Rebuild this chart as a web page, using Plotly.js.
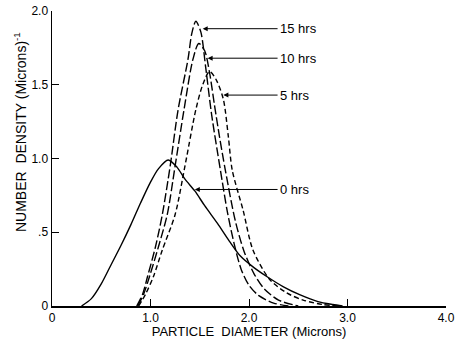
<!DOCTYPE html>
<html>
<head>
<meta charset="utf-8">
<script src="https://cdn.plot.ly/plotly-3.0.1.min.js"></script>
<style>html,body{margin:0;padding:0;background:#fff;}#chart{width:457px;height:339px;}</style>
</head>
<body>
<div id="chart"></div>
<script>
// 0 hrs (solid)
const diameter0 = [0.30,0.40,0.50,0.60,0.70,0.80,0.90,1.00,1.08,1.18,1.27,1.35,1.45,1.55,1.68,1.80,1.91,2.05,2.18,2.35,2.52,2.70,2.85,2.95];
const density0  = [0,0.05,0.15,0.28,0.41,0.55,0.70,0.84,0.93,0.99,0.94,0.86,0.78,0.68,0.56,0.44,0.34,0.26,0.20,0.13,0.075,0.03,0.01,0];
// 5 hrs
const diameter5 = [0.88,0.95,1.03,1.12,1.25,1.35,1.46,1.53,1.60,1.67,1.74,1.79,1.83,1.94,2.04,2.21,2.38,2.55,2.75,2.92];
const density5  = [0,0.08,0.20,0.38,0.62,0.95,1.33,1.50,1.59,1.53,1.40,1.15,0.92,0.65,0.38,0.18,0.09,0.04,0.01,0];
// 10 hrs
const diameter10 = [0.87,0.93,0.99,1.08,1.17,1.25,1.34,1.43,1.49,1.55,1.60,1.65,1.70,1.76,1.86,1.95,2.05,2.15,2.30,2.50];
const density10  = [0,0.08,0.20,0.40,0.62,0.95,1.33,1.67,1.78,1.73,1.58,1.36,1.15,0.92,0.58,0.37,0.22,0.12,0.04,0];
// 15 hrs
const diameter15 = [0.86,0.92,0.97,1.05,1.12,1.20,1.28,1.38,1.42,1.46,1.51,1.56,1.62,1.71,1.78,1.85,1.92,2.00,2.10,2.25,2.40];
const density15  = [0,0.08,0.20,0.40,0.62,0.95,1.33,1.67,1.85,1.93,1.86,1.62,1.30,0.92,0.64,0.42,0.25,0.14,0.07,0.02,0];

const seriesNames = ['0 hrs','5 hrs','10 hrs','15 hrs'];
const xTickVals = [0,1,2,3,4];
const xTickText = ['0','1.0','2.0','3.0','4.0'];
const yTickVals = [0,0.5,1,1.5,2];
const yTickText = ['0','.5','1.0','1.5','2.0'];
const xTitle = 'PARTICLE\u00A0 DIAMETER (Microns)';
const yTitle = 'NUMBER\u00A0 DENSITY (Microns)<sup>-1</sup>';

const font = 'Liberation Sans, Arial, sans-serif';

function trace(x, y, name, dash) {
  return {x: x, y: y, name: name, mode: 'lines', type: 'scatter',
    line: {color: '#000', width: 1.4, dash: dash, shape: 'spline', smoothing: 0.8},
    hoverinfo: 'skip'};
}

const data = [
  trace(diameter0, density0, seriesNames[0], 'solid'),
  trace(diameter5, density5, seriesNames[1], '5px,3px'),
  trace(diameter10, density10, seriesNames[2], '9px,3px'),
  trace(diameter15, density15, seriesNames[3], '9px,3px')
];

function label(text, tipX, tipY, textX) {
  return {x: tipX, y: tipY, xref: 'x', yref: 'y', ax: textX, ay: tipY, axref: 'x', ayref: 'y',
    text: text, showarrow: true, arrowhead: 2, arrowsize: 1, arrowwidth: 1, arrowcolor: '#000',
    xanchor: 'left', yanchor: 'middle', font: {family: font, size: 13, color: '#000'}, standoff: 0};
}

const layout = {
  width: 457, height: 339,
  margin: {l: 52, r: 11, t: 11, b: 33},
  paper_bgcolor: '#fff', plot_bgcolor: '#fff',
  showlegend: false,
  font: {family: font, color: '#000', size: 12},
  xaxis: {range: [0, 4], showgrid: false, zeroline: false, showline: true, linecolor: '#000', linewidth: 1.5,
    ticks: 'inside', ticklen: 7, tickcolor: '#000', tickwidth: 1, automargin: false,
    tickvals: xTickVals, ticktext: xTickText, tickfont: {family: font, size: 12, color: '#000'},
    title: {text: xTitle, font: {family: font, size: 13, color: '#000'}, standoff: 1}},
  yaxis: {range: [0, 2], showgrid: false, zeroline: false, showline: true, linecolor: '#000', linewidth: 1.5,
    ticks: 'inside', ticklen: 7, tickcolor: '#000', tickwidth: 1, automargin: false,
    tickvals: yTickVals, ticktext: yTickText, tickfont: {family: font, size: 12, color: '#000'}},
  annotations: [
    label('15 hrs', 1.53, 1.88, 2.29),
    label('10 hrs', 1.58, 1.68, 2.29),
    label('5 hrs', 1.74, 1.43, 2.29),
    label('0 hrs', 1.45, 0.79, 2.29),
    {xref: 'paper', yref: 'paper', x: -0.081, y: 0.59, xanchor: 'center', yanchor: 'middle', showarrow: false,
      textangle: -90, text: yTitle, font: {family: font, size: 14, color: '#000'}}
  ]
};

Plotly.newPlot('chart', data, layout, {displayModeBar: false, staticPlot: true});
</script>
</body>
</html>
